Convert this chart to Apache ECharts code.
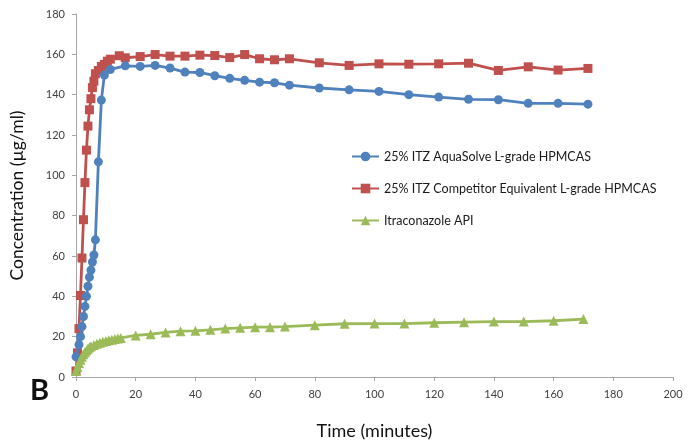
<!DOCTYPE html>
<html>
<head>
<meta charset="utf-8">
<script src="https://cdn.jsdelivr.net/npm/echarts@6/dist/echarts.min.js"></script>
<style>
html,body{margin:0;padding:0;background:#fff;}
#chart{width:691px;height:445px;}
</style>
</head>
<body>
<div id="chart"></div>
<script>
// Data
var seriesNames = [
  '25% ITZ AquaSolve L-grade HPMCAS',
  '25% ITZ Competitor Equivalent L-grade HPMCAS',
  'Itraconazole API'
];

var aquaTime = [0, 1, 1.5, 2, 2.5, 3, 3.5, 4, 4.5, 5, 5.5, 6, 6.5, 7.5, 8.5, 9.5, 11.5, 16.5, 21.5, 26.5, 31.5, 36.5, 41.5, 46.5, 51.5, 56.5, 61.5, 66.5, 71.5, 81.5, 91.5, 101.5, 111.5, 121.5, 131.5, 141.5, 151.5, 161.5, 171.5];
var aquaConc = [10, 16, 20, 25, 30, 35, 40, 45, 49.5, 53, 57, 60.5, 68, 106.7, 137.3, 149.7, 152.5, 154.3, 154, 154.5, 153.2, 151.2, 151, 149.4, 148.1, 147.1, 146.2, 145.9, 144.7, 143.3, 142.4, 141.6, 140, 138.8, 137.7, 137.5, 135.7, 135.7, 135.3];

var compTime = [0, 0.5, 1, 1.5, 2, 2.5, 3, 3.5, 4, 4.5, 5, 5.5, 6, 6.5, 7.5, 8.5, 9.5, 10.5, 11.5, 14.5, 16.5, 21.5, 26.5, 31.5, 36.5, 41.5, 46.5, 51.5, 56.5, 61.5, 66.5, 71.5, 81.5, 91.5, 101.5, 111.5, 121.5, 131.5, 141.5, 151.5, 161.5, 171.5];
var compConc = [3, 12, 24, 40.4, 59, 78, 96.4, 112.5, 124.4, 132.5, 138, 143.5, 146.7, 150.4, 152, 154, 155, 156.6, 157.6, 159.3, 158.3, 158.9, 159.9, 159.1, 159.1, 159.6, 159.4, 158.4, 159.9, 157.8, 157.3, 157.8, 155.8, 154.5, 155.3, 155.1, 155.3, 155.6, 152, 153.8, 152.2, 153];

var apiTime = [0, 0.5, 1, 1.5, 2, 2.5, 3, 3.5, 4, 4.5, 5, 6, 7, 8, 9, 10, 11, 12, 13, 14, 15, 20, 25, 30, 35, 40, 45, 50, 55, 60, 65, 70, 80, 90, 100, 110, 120, 130, 140, 150, 160, 170];
var apiConc = [3, 5, 7, 8.5, 10, 11.3, 12.3, 13.2, 14, 14.8, 15.2, 15.9, 16.5, 17, 17.5, 17.9, 18.2, 18.5, 18.8, 19.1, 19.4, 20.6, 21.2, 22.1, 22.7, 22.9, 23.4, 24, 24.4, 24.7, 24.7, 25, 25.7, 26.4, 26.5, 26.5, 26.9, 27.2, 27.5, 27.5, 27.9, 28.7];

var xTicks = [0, 20, 40, 60, 80, 100, 120, 140, 160, 180, 200];
var yTicks = [0, 20, 40, 60, 80, 100, 120, 140, 160, 180];

function pairs(t, c) { return t.map(function (v, i) { return [v, c[i]]; }); }

var chart = echarts.init(document.getElementById('chart'));
var font = 'Lato, "Open Sans", sans-serif';
var axisCol = '#a6a6a6';

chart.setOption({
  animation: false,
  backgroundColor: '#ffffff',
  grid: { left: 74, right: 18, top: 14, bottom: 67 },
  legend: {
    orient: 'vertical',
    left: 346,
    top: 145,
    itemWidth: 27,
    itemHeight: 12,
    itemGap: 19,
    textStyle: { fontFamily: font, fontSize: 12.5, color: '#1a1a1a' },
    data: seriesNames
  },
  xAxis: {
    type: 'value',
    min: xTicks[0],
    max: xTicks[xTicks.length - 1],
    interval: 20,
    name: 'Time (minutes)',
    nameLocation: 'middle',
    nameGap: 45,
    nameTextStyle: { fontFamily: font, fontSize: 18, color: '#111' },
    axisLine: { lineStyle: { color: axisCol, width: 1 } },
    axisTick: { show: true, length: 4, lineStyle: { color: axisCol } },
    axisLabel: { margin: 12, fontFamily: font, fontSize: 11, color: '#404040' },
    splitLine: { show: false }
  },
  yAxis: {
    type: 'value',
    min: yTicks[0],
    max: yTicks[yTicks.length - 1],
    interval: 20,
    name: 'Concentration (µg/ml)',
    nameLocation: 'middle',
    nameGap: 50,
    nameRotate: 90,
    nameTextStyle: { fontFamily: font, fontSize: 17.5, color: '#111' },
    axisLine: { show: true, lineStyle: { color: axisCol, width: 1 } },
    axisTick: { show: true, length: 4, lineStyle: { color: axisCol } },
    axisLabel: { margin: 11, fontFamily: font, fontSize: 11, color: '#404040' },
    splitLine: { show: false }
  },
  graphic: [{
    type: 'text',
    left: 30,
    top: 376,
    style: { text: 'B', font: 'bold 29px ' + font, fill: '#111' }
  }],
  series: [
    {
      name: seriesNames[0], type: 'line', data: pairs(aquaTime, aquaConc),
      symbol: 'circle', symbolSize: 9,
      lineStyle: { color: '#4F81BD', width: 2.8 },
      itemStyle: { color: '#4F81BD' }, z: 3
    },
    {
      name: seriesNames[1], type: 'line', data: pairs(compTime, compConc),
      symbol: 'rect', symbolSize: 9,
      lineStyle: { color: '#C0504D', width: 2.8 },
      itemStyle: { color: '#C0504D' }, z: 2
    },
    {
      name: seriesNames[2], type: 'line', data: pairs(apiTime, apiConc),
      symbol: 'triangle', symbolSize: 10,
      lineStyle: { color: '#9BBB59', width: 2.8 },
      itemStyle: { color: '#9BBB59' }, z: 4
    }
  ]
});
</script>
</body>
</html>
